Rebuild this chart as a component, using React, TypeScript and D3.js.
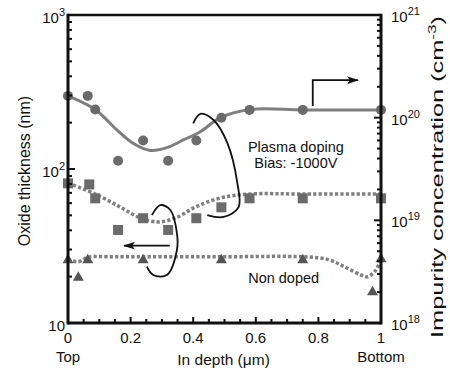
import * as d3 from "d3";

// Plasma doping, impurity concentration (right axis)
const circleDepth = [0, 0.063, 0.087, 0.16, 0.24, 0.32, 0.41, 0.49, 0.58, 0.75, 1.0];
const circleConc = [1.63e20, 1.63e20, 1.2e20, 3.8e19, 6.0e19, 3.8e19, 6.0e19, 1.0e20, 1.19e20, 1.19e20, 1.19e20];
const concFitDepth = [0, 0.087, 0.156, 0.209, 0.263, 0.316, 0.37, 0.423, 0.487, 0.583, 0.752, 1.0];
const concFit = [1.63e20, 1.2e20, 7.6e19, 5.6e19, 4.8e19, 5.1e19, 6.1e19, 7.3e19, 1.0e20, 1.2e20, 1.19e20, 1.19e20];

// Plasma doping, oxide thickness (left axis)
const squareDepth = [0, 0.068, 0.087, 0.16, 0.24, 0.32, 0.41, 0.49, 0.58, 0.75, 1.0];
const squareThick = [80.7, 79.4, 64.5, 40.2, 47.9, 40.2, 47.9, 56.4, 64.5, 64.5, 64.5];
const squareFitDepth = [0, 0.087, 0.167, 0.231, 0.288, 0.343, 0.407, 0.487, 0.583, 0.744, 1.0];
const squareFit = [81.1, 68.8, 56.6, 48.1, 45.3, 48.1, 56.6, 64.9, 68.8, 68.8, 68.8];

// Non doped, oxide thickness (left axis)
const triDepth = [0, 0.033, 0.063, 0.24, 0.49, 0.75, 0.973, 1.0];
const triThick = [25.9, 20.0, 25.9, 25.9, 25.9, 25.9, 16.1, 26.3];
const triFitDepth = [0, 0.033, 0.063, 0.156, 0.477, 0.754, 0.829, 0.883, 0.936, 0.957, 0.984, 1.0];
const triFit = [25.9, 25.0, 26.7, 26.9, 26.9, 26.9, 25.9, 23.2, 20.5, 19.96, 22.1, 26.3];

// annotation loops / arrows (depth, oxide thickness or concentration)
const upperLoopDepth = [0.4, 0.423, 0.465, 0.509, 0.541, 0.545, 0.497, 0.445];
const upperLoopThick = [198, 228, 208, 147.6, 81.1, 56.6, 48.8, 50.2];
const lowerLoopDepth = [0.268, 0.295, 0.327, 0.348, 0.348, 0.316, 0.272, 0.252];
const lowerLoopThick = [50.2, 58.3, 54.2, 38.4, 29.8, 20.5, 20.5, 23.2];
const rightArrowDepth = [0.782, 0.782, 0.926];
const rightArrowConc = [1.3e20, 2.32e20, 2.32e20];
const leftArrowDepth = [0.325, 0.179];
const leftArrowThick = [31.8, 31.8];

const xTickLabels = ["0", "0.2", "0.4", "0.6", "0.8", "1"];
const leftExp = ["", "2", "3"];
const rightExp = ["18", "19", "20", "21"];

const W = 450;
const H = 375;
const m = { left: 68, right: 381, top: 15, bottom: 323 };
const font = "'Liberation Sans', Arial, Helvetica, sans-serif";
const markColor = "#6b6b6b";
const lineColor = "#7f7f7f";

const x = d3.scaleLinear().domain([0, 1]).range([m.left, m.right]);
const yL = d3.scaleLog().domain([10, 1000]).range([m.bottom, m.top]);
const yR = d3.scaleLog().domain([1e18, 1e21]).range([m.bottom, m.top]);

const zip = (a: number[], b: number[]) => a.map((v, i) => [v, b[i]] as [number, number]);

export default function App() {
  const lineL = d3.line<[number, number]>().x(d => x(d[0])).y(d => yL(d[1])).curve(d3.curveCatmullRom.alpha(0.5));
  const lineR = d3.line<[number, number]>().x(d => x(d[0])).y(d => yR(d[1])).curve(d3.curveCatmullRom.alpha(0.5));
  const polyL = d3.line<[number, number]>().x(d => x(d[0])).y(d => yL(d[1]));
  const polyR = d3.line<[number, number]>().x(d => x(d[0])).y(d => yR(d[1]));

  const xMinor = d3.range(1, 20).map(i => i * 0.05);
  const leftTicks = yL.ticks();
  const rightTicks = yR.ticks();
  const isMajor = (v: number) => Math.abs(Math.log10(v) - Math.round(Math.log10(v))) < 1e-6;

  return (
    <div style={{ position: "absolute", left: 0, top: 0 }}>
      <svg width={W} height={H} style={{ display: "block", background: "#fff" }} fontFamily={font}>
        <defs>
          <marker id="ah" viewBox="0 0 12 10" refX="11" refY="5" markerWidth="12" markerHeight="10"
            markerUnits="userSpaceOnUse" orient="auto">
            <path d="M0,1 L12,5 L0,9 L3,5 Z" fill="#111" />
          </marker>
        </defs>

        {/* fit curves */}
        <path d={lineR(zip(concFitDepth, concFit)) || ""} fill="none" stroke={lineColor} strokeWidth={3} />
        <path d={lineL(zip(squareFitDepth, squareFit)) || ""} fill="none" stroke={lineColor} strokeWidth={3.5}
          strokeDasharray="3.2,2.2" />
        <path d={lineL(zip(triFitDepth, triFit)) || ""} fill="none" stroke={lineColor} strokeWidth={3.5}
          strokeDasharray="3.2,2.2" />

        {/* markers */}
        {circleDepth.map((d, i) => (
          <circle key={"c" + i} cx={x(d)} cy={yR(circleConc[i])} r={5} fill={markColor} />
        ))}
        {squareDepth.map((d, i) => (
          <rect key={"s" + i} x={x(d) - 5} y={yL(squareThick[i]) - 5} width={10} height={10} fill={markColor} />
        ))}
        {triDepth.map((d, i) => (
          <path key={"t" + i} transform={`translate(${x(d)},${yL(triThick[i])})`} d="M0,-5.5 L5.5,4 L-5.5,4 Z"
            fill="#555" />
        ))}

        {/* annotations */}
        <path d={lineL(zip(upperLoopDepth, upperLoopThick)) || ""} fill="none" stroke="#111" strokeWidth={1.8} />
        <path d={lineL(zip(lowerLoopDepth, lowerLoopThick)) || ""} fill="none" stroke="#111" strokeWidth={1.8} />
        <path d={polyR(zip(rightArrowDepth, rightArrowConc)) || ""} fill="none" stroke="#111" strokeWidth={1.8}
          markerEnd="url(#ah)" />
        <path d={polyL(zip(leftArrowDepth, leftArrowThick)) || ""} fill="none" stroke="#111" strokeWidth={1.8}
          markerEnd="url(#ah)" />

        <g fontSize={14.5} textAnchor="middle" fill="#111">
          <text x={x(0.728)} y={yR(4.6e19)}>Plasma doping</text>
          <text x={x(0.728)} y={yR(3.2e19)}>Bias: -1000V</text>
          <text x={x(0.689)} y={yL(18.2)}>Non doped</text>
        </g>

        {/* ticks */}
        <g stroke="#111" strokeWidth={2}>
          {xMinor.map((v, i) => (
            <line key={"xt" + i} x1={x(v)} x2={x(v)} y1={m.bottom} y2={m.bottom - ((i + 1) % 4 === 0 ? 6 : 4)} />
          ))}
          {leftTicks.filter(v => v > 10 && v < 1000).map((v, i) => (
            <line key={"lt" + i} x1={m.left} x2={m.left + (isMajor(v) ? 7 : 4)} y1={yL(v)} y2={yL(v)} />
          ))}
          {rightTicks.filter(v => v > 1e18 && v < 1e21).map((v, i) => (
            <line key={"rt" + i} x1={m.right} x2={m.right - (isMajor(v) ? 7 : 4)} y1={yR(v)} y2={yR(v)} />
          ))}
        </g>

        {/* frame */}
        <line x1={m.left} x2={m.right} y1={m.top} y2={m.top} stroke="#111" strokeWidth={2.5} />
        <line x1={m.left} x2={m.left} y1={m.top - 1.2} y2={m.bottom + 1.5} stroke="#111" strokeWidth={3} />
        <line x1={m.right} x2={m.right} y1={m.top - 1.2} y2={m.bottom + 1.5} stroke="#111" strokeWidth={3} />
        <line x1={m.left} x2={m.right} y1={m.bottom} y2={m.bottom} stroke="#111" strokeWidth={3} />

        {/* tick labels */}
        <g fontSize={15} fill="#111">
          {xTickLabels.map((t, i) => (
            <text key={"xl" + i} x={x(i * 0.2)} y={343} textAnchor="middle">{t}</text>
          ))}
          {leftExp.map((e, i) => (
            <text key={"ll" + i} x={65} y={yL(Math.pow(10, i + 1)) + 8} textAnchor="end">
              10{e && <tspan dy={-7} fontSize={11}>{e}</tspan>}
            </text>
          ))}
          {rightExp.map((e, i) => (
            <text key={"rl" + i} x={391} y={yR(Math.pow(10, 18 + i)) + 7}>
              10<tspan dy={-7} fontSize={11}>{e}</tspan>
            </text>
          ))}
          <text x={x(0)} y={362} textAnchor="middle">Top</text>
          <text x={x(1)} y={362} textAnchor="middle">Bottom</text>
        </g>

        {/* axis titles */}
        <text x={x(0.497)} y={365} textAnchor="middle" fontSize={15.5} fill="#111">In depth (μm)</text>
        <text transform="translate(30,171) rotate(-90)" textAnchor="middle" fontSize={16} fill="#111">
          Oxide thickness (nm)
        </text>
        <text transform="translate(443,177) rotate(-90)" textAnchor="middle" fontSize={17} fill="#111"
          textLength={322} lengthAdjust="spacingAndGlyphs">
          Impurity concentration (cm<tspan dy={-7} fontSize={11.5}>-3</tspan><tspan dy={7}>)</tspan>
        </text>
      </svg>
    </div>
  );
}
